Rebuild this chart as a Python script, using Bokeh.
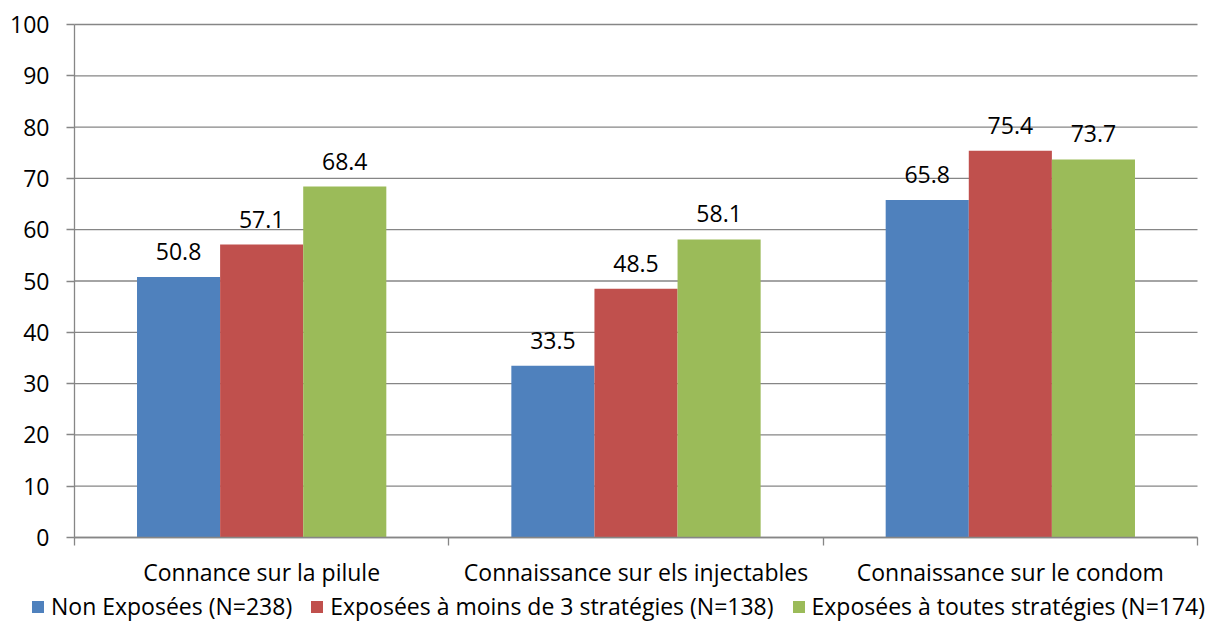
from bokeh.plotting import figure
from bokeh.models import (FixedTicker, Legend, LegendItem, ColumnDataSource,
                          Range1d, LabelSet, LinearAxis)
from bokeh.core.properties import value
from bokeh.embed import file_html
from bokeh.resources import INLINE

categories = ["Connance sur la pilule",
              "Connaissance sur els injectables",
              "Connaissance sur le condom"]
series_names = ["Non Exposées (N=238)",
                "Exposées à moins de 3 stratégies (N=138)",
                "Exposées à toutes stratégies (N=174)"]
non_exposees = [50.8, 33.5, 65.8]
moins_3_strategies = [57.1, 48.5, 75.4]
toutes_strategies = [68.4, 58.1, 73.7]
y_ticks = [0, 10, 20, 30, 40, 50, 60, 70, 80, 90, 100]

series = [non_exposees, moins_3_strategies, toutes_strategies]
colors = ["#4F81BD", "#C0504D", "#9BBB59"]

FONT = "Open Sans"
FS = "23px"
GRID = "#868686"

W, H = 1227, 622
# plot-area placement in pixels
PL, PR, PT, PB = 74, 1197, 24, 537
n = len(categories)
y_lo, y_hi = y_ticks[0], y_ticks[-1]
xs_per_px = n / (PR - PL)
ys_per_px = (y_hi - y_lo) / (PB - PT)
x_range = Range1d(0 - PL * xs_per_px, n + (W - PR) * xs_per_px)
y_range = Range1d(y_lo - (H - PB) * ys_per_px, y_hi + PT * ys_per_px)

p = figure(width=W, height=H, x_range=x_range, y_range=y_range,
           output_backend="svg", toolbar_location=None,
           x_axis_location=None, y_axis_location=None,
           min_border_left=0, min_border_right=0, min_border_top=0,
           min_border_bottom=0)
p.outline_line_color = None
p.background_fill_color = "white"
p.border_fill_color = "white"
p.xgrid.visible = False
p.ygrid.visible = False

# horizontal gridlines across the plot area
p.segment(x0=[0] * len(y_ticks), x1=[n] * len(y_ticks), y0=y_ticks, y1=y_ticks,
          line_color=GRID, line_width=1.3)

bar_w = 0.222
centers = [i + 0.5 for i in range(n)]
offsets = [-bar_w, 0, bar_w]

items = []
for vals, name, col, off in zip(series, series_names, colors, offsets):
    xs = [c + off for c in centers]
    src = ColumnDataSource(dict(x=xs, top=vals, lab=[f"{v:.1f}" for v in vals]))
    r = p.vbar(x="x", top="top", width=bar_w, source=src, fill_color=col,
               line_color=None)
    items.append(LegendItem(label=name, renderers=[r]))
    ls = LabelSet(x="x", y="top", text="lab", source=src, text_align="center",
                  text_baseline="alphabetic", y_offset=17, text_font=value(FONT),
                  text_font_size=value(FS), text_color="black")
    p.add_layout(ls)

# y axis (fixed at x=0, limited to 0..100)
yax = LinearAxis(fixed_location=0, bounds=(y_lo, y_hi),
                 ticker=FixedTicker(ticks=y_ticks))
yax.axis_line_color = GRID
yax.axis_line_width = 1.3
yax.major_tick_line_color = GRID
yax.major_tick_line_width = 1.3
yax.major_tick_in = 0
yax.major_tick_out = 8
yax.minor_tick_line_color = None
yax.major_label_standoff = 17
yax.major_label_text_font = FONT
yax.major_label_text_font_size = FS
yax.major_label_text_color = "black"
p.add_layout(yax, "left")

# x axis (fixed at y=0)
xax = LinearAxis(fixed_location=0, bounds=(0, n),
                 ticker=FixedTicker(ticks=centers, minor_ticks=list(range(n + 1))))
xax.major_label_overrides = {c: lab for c, lab in zip(centers, categories)}
xax.axis_line_color = GRID
xax.axis_line_width = 1.3
xax.major_tick_line_color = None
xax.major_tick_in = 0
xax.major_tick_out = 0
xax.minor_tick_line_color = GRID
xax.minor_tick_line_width = 1.3
xax.minor_tick_in = 0
xax.minor_tick_out = 8
xax.major_label_standoff = 10
xax.major_label_text_font = FONT
xax.major_label_text_font_size = FS
xax.major_label_text_color = "black"
p.add_layout(xax, "below")

legend = Legend(items=items, orientation="horizontal", location=(30, 0),
                glyph_width=15, glyph_height=15, label_standoff=6, spacing=17,
                padding=0, margin=0, border_line_alpha=0, background_fill_alpha=0,
                label_text_font=FONT, label_text_font_size=FS,
                label_text_color="black", label_height=15)
p.add_layout(legend, "center")

open("out.html", "w").write(file_html(p, INLINE))
